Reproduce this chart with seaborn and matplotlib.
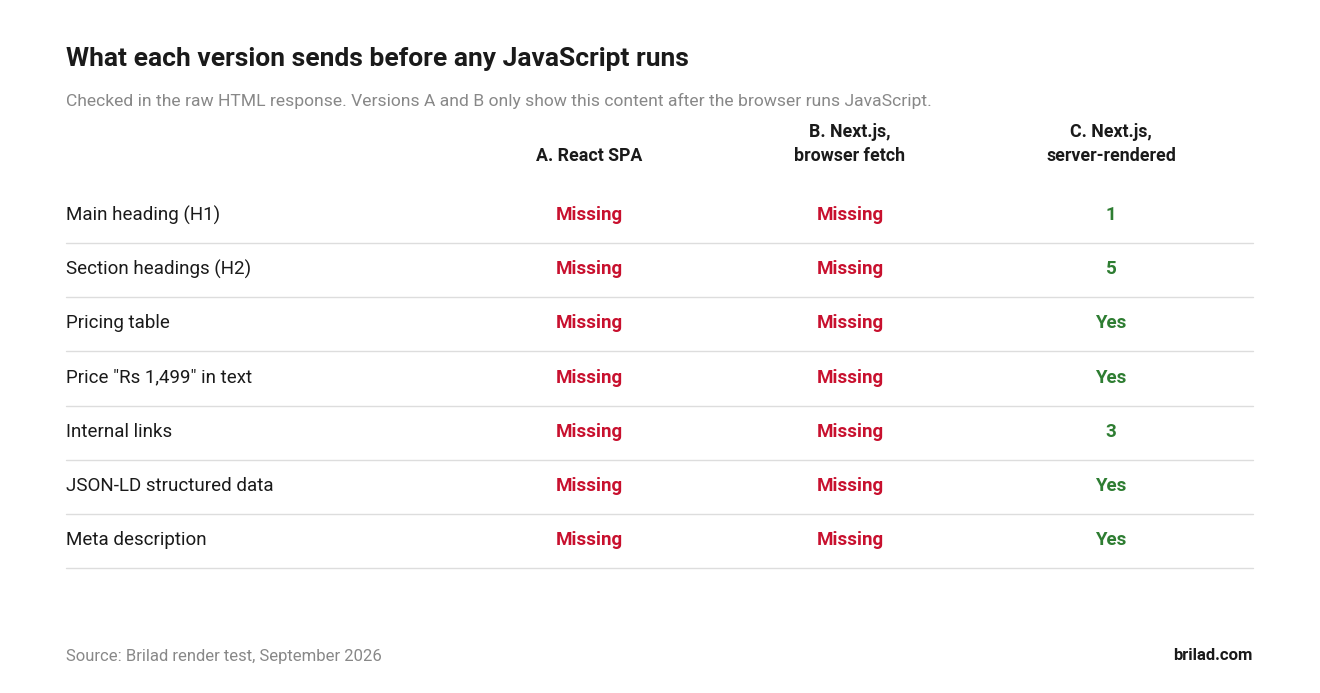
import matplotlib
matplotlib.use("Agg")
import matplotlib.pyplot as plt
import seaborn as sns

sns.set_theme(style="white")
plt.rcParams["font.family"] = ["Roboto", "DejaVu Sans"]

title = "What each version sends before any JavaScript runs"
subtitle = "Checked in the raw HTML response. Versions A and B only show this content after the browser runs JavaScript."
columns = ["A. React SPA", "B. Next.js,\nbrowser fetch", "C. Next.js,\nserver-rendered"]
rows = ["Main heading (H1)", "Section headings (H2)", "Pricing table",
        'Price "Rs 1,499" in text', "Internal links", "JSON-LD structured data",
        "Meta description"]
col_a = ["Missing"] * 7
col_b = ["Missing"] * 7
col_c = ["1", "5", "Yes", "Yes", "3", "Yes", "Yes"]
source = "Source: Brilad render test, September 2026"
brand = "brilad.com"

RED = "#c8102e"
GREEN = "#2e7d32"

fig = plt.figure(figsize=(13.2, 6.93), dpi=100)
ax = fig.add_axes([0, 0, 1, 1])
ax.set_xlim(0, 1320)
ax.set_ylim(693, 0)
ax.axis("off")

ax.text(66, 59, title, fontsize=19, fontweight="bold", color="#1a1a1a", va="center")
ax.text(66, 101, subtitle, fontsize=12.6, color="#888888", va="center")

col_x = [589, 850, 1111]
for x, c in zip(col_x, columns):
    ax.text(x, 161, c, fontsize=12.8, fontweight="bold", color="#1a1a1a",
            ha="center", va="baseline", linespacing=1.4)

row_y0, row_h = 215, 54.2
for i, r in enumerate(rows):
    y = row_y0 + i * row_h
    ax.text(66, y, r, fontsize=13.5, color="#1a1a1a", va="center")
    for x, col in zip(col_x, [col_a, col_b, col_c]):
        v = col[i]
        ax.text(x, y, v, fontsize=13.5, fontweight="bold", va="center", ha="center",
                color=RED if v == "Missing" else GREEN)
    ax.plot([66, 1253], [y + 28, y + 28], color="#dddddd", lw=1)

ax.text(66, 656, source, fontsize=12, color="#888888", va="center")
ax.text(1253, 656, brand, fontsize=12, fontweight="bold", color="#1a1a1a",
        va="center", ha="right")

fig.savefig("out.png", dpi=100)
